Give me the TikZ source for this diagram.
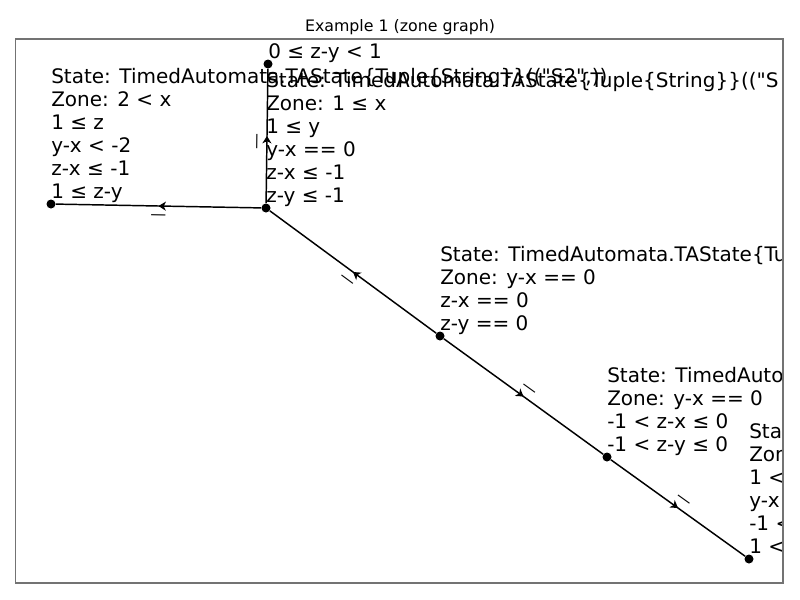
\documentclass[tikz,border=0pt]{standalone}
\usepackage{fontspec}
\setmainfont{DejaVu Sans}
\usetikzlibrary{positioning,arrows.meta,decorations.markings}
\tikzset{
  st/.style={circle,fill=black,inner sep=0pt,minimum size=6.75pt},
  zlab/.style={anchor=base west,yshift=4.5pt,align=left,inner sep=0pt,font=\fontsize{15pt}{17.25pt}\selectfont},
  trans/.style={line width=1.1pt,postaction={decorate},
    decoration={markings,mark=at position 0.5 with {\arrow{Stealth[length=5.5pt,width=6.8pt,inset=1.6pt]}}}},
  elab/.style={sloped,inner sep=0pt,font=\fontsize{11.85pt}{14pt}\selectfont},
  ttl/.style={anchor=base,font=\fontsize{11.85pt}{14pt}\selectfont},
}
\begin{document}
\begin{tikzpicture}[x=0.75pt,y=-0.75pt]
  \useasboundingbox (0,0) rectangle (800,600);
  \node[ttl] (title) at (400,31.5) {Example 1 (zone graph)};
  \begin{scope}
    \clip (15.5,39) rectangle (783,583);
    % states of the zone graph
    \node[st] (A) at (266,208) {};
    \node[st] (B) at (268,64) {};
    \node[st] (C) at (51,204) {};
    \node[st] (D) at (440,336) {};
    \node[st] (E) at (607,457) {};
    \node[st] (F) at (749,559) {};
    % zone labels
    \node[zlab] (tC) at (C) {State: TimedAutomata.TAState\{Tuple\{String\}\}((\textquotedbl S2\textquotedbl,))\\Zone: 2 < x\\1 ≤ z\\y-x < -2\\z-x ≤ -1\\1 ≤ z-y};
    \node[zlab] (tA) at (A) {State: TimedAutomata.TAState\{Tuple\{String\}\}((\textquotedbl S\\Zone: 1 ≤ x\\1 ≤ y\\y-x == 0\\z-x ≤ -1\\z-y ≤ -1};
    \node[zlab] (tB) at (B) {0 ≤ z-y < 1};
    \node[zlab] (tD) at (D) {State: TimedAutomata.TAState\{Tu\\Zone: y-x == 0\\z-x == 0\\z-y == 0};
    \node[zlab] (tE) at (E) {State: TimedAutom\\Zone: y-x == 0\\-1 < z-x ≤ 0\\-1 < z-y ≤ 0};
    \node[zlab] (tF) at (F) {State:\\Zone:\\1 <\\y-x\\-1 <\\1 <};
    % transitions
    \draw[trans] (A) -- node[elab,below=6.3pt] (lAC) {—} (C);
    \draw[trans] (A) -- node[elab,above=3.75pt,pos=0.46] (lAB) {—} (B);
    \draw[trans] (D) -- node[elab,below=6.3pt] (lDA) {—} (A);
    \draw[trans] (D) -- node[elab,above=3.75pt] (lDE) {—} (E);
    \draw[trans] (E) -- node[elab,above=3.75pt] (lEF) {—} (F);
  \end{scope}
  \draw[black!55,line width=0.9pt] (15.5,39) rectangle (783,583);
\end{tikzpicture}
\end{document}
